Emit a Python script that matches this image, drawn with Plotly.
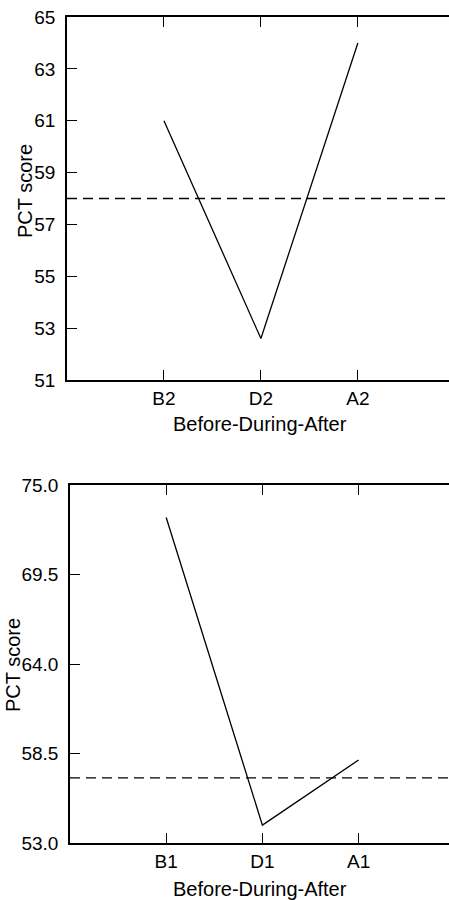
import plotly.graph_objects as go

# ---- data ----
top_categories = ["B2", "D2", "A2"]
top_scores = [61.0, 52.6, 64.0]
top_reference = 58.0
top_yticks = [51, 53, 55, 57, 59, 61, 63, 65]

bottom_categories = ["B1", "D1", "A1"]
bottom_scores = [73.0, 54.1, 58.1]
bottom_reference = 57.0
bottom_yticks = [53.0, 58.5, 64.0, 69.5, 75.0]

x_title = "Before-During-After"
y_title = "PCT score"

W, H = 449, 900
FONT = "Liberation Sans, Arial, sans-serif"

def px_x(p):
    return p / W

def px_y(p):
    return 1 - p / H

fig = go.Figure()

# positions on category axes 1..3
top_x = list(range(1, len(top_categories) + 1))
bot_x = list(range(1, len(bottom_categories) + 1))

fig.add_trace(go.Scatter(x=top_x, y=top_scores, mode="lines",
                         line=dict(color="black", width=1.3),
                         xaxis="x", yaxis="y", showlegend=False))
fig.add_trace(go.Scatter(x=bot_x, y=bottom_scores, mode="lines",
                         line=dict(color="black", width=1.3),
                         xaxis="x2", yaxis="y2", showlegend=False))

XMAX = 3.94
fig.add_shape(type="line", xref="x", yref="y", x0=0, x1=XMAX,
              y0=top_reference, y1=top_reference,
              line=dict(color="black", width=1.3, dash="10px,6px"))
fig.add_shape(type="line", xref="x2", yref="y2", x0=0, x1=XMAX,
              y0=bottom_reference, y1=bottom_reference,
              line=dict(color="black", width=1.3, dash="10px,6px"))

tickfont = dict(family=FONT, size=19, color="black")
base = dict(linecolor="black", linewidth=1.5, ticks="inside", ticklen=10,
            tickcolor="black", tickwidth=1.3, showgrid=False,
            zeroline=False, automargin=False, tickfont=tickfont)

fig.update_layout(
    width=W, height=H,
    margin=dict(l=0, r=0, t=0, b=0, autoexpand=False),
    paper_bgcolor="white", plot_bgcolor="white",
    font=dict(family=FONT, color="black"),
    xaxis=dict(domain=[px_x(67), 1], range=[0, XMAX], tickvals=top_x,
               ticktext=top_categories, anchor="y", ticklabelstandoff=0,
               showline=True, mirror="ticks", **base),
    yaxis=dict(domain=[px_y(380), px_y(17)], range=[51, 65], tickvals=top_yticks,
               anchor="x", ticklabelstandoff=6, showline=True, mirror=False, **base),
    yaxis3=dict(overlaying="y", side="right", anchor="x", range=[51, 65],
                tickvals=top_yticks, showticklabels=False, showline=False,
                ticklen=8, **{k: v for k, v in base.items() if k != "ticklen"}),
    xaxis2=dict(domain=[px_x(70), 1], range=[0, XMAX], tickvals=bot_x,
                ticktext=bottom_categories, anchor="y2", ticklabelstandoff=0,
                showline=True, mirror="ticks", **base),
    yaxis2=dict(domain=[px_y(843), px_y(485)], range=[53, 75], tickvals=bottom_yticks,
                tickformat=".1f", anchor="x2", ticklabelstandoff=6,
                showline=True, mirror=False, **base),
    yaxis4=dict(overlaying="y2", side="right", anchor="x2", range=[53, 75],
                tickvals=bottom_yticks, showticklabels=False, showline=False,
                ticklen=8, **{k: v for k, v in base.items() if k != "ticklen"}),
)

ann_font = dict(family=FONT, size=20, color="black")
annotations = [
    dict(text=x_title, x=px_x(260), y=px_y(424), xref="paper", yref="paper",
         xanchor="center", yanchor="middle", showarrow=False, font=ann_font),
    dict(text=x_title, x=px_x(260), y=px_y(889), xref="paper", yref="paper",
         xanchor="center", yanchor="middle", showarrow=False, font=ann_font),
    dict(text=y_title, x=px_x(25), y=px_y(191), xref="paper", yref="paper",
         xanchor="center", yanchor="middle", textangle=-90, showarrow=False, font=ann_font),
    dict(text=y_title, x=px_x(13), y=px_y(665), xref="paper", yref="paper",
         xanchor="center", yanchor="middle", textangle=-90, showarrow=False, font=ann_font),
]
fig.update_layout(annotations=annotations)

fig.write_html("out.html")
